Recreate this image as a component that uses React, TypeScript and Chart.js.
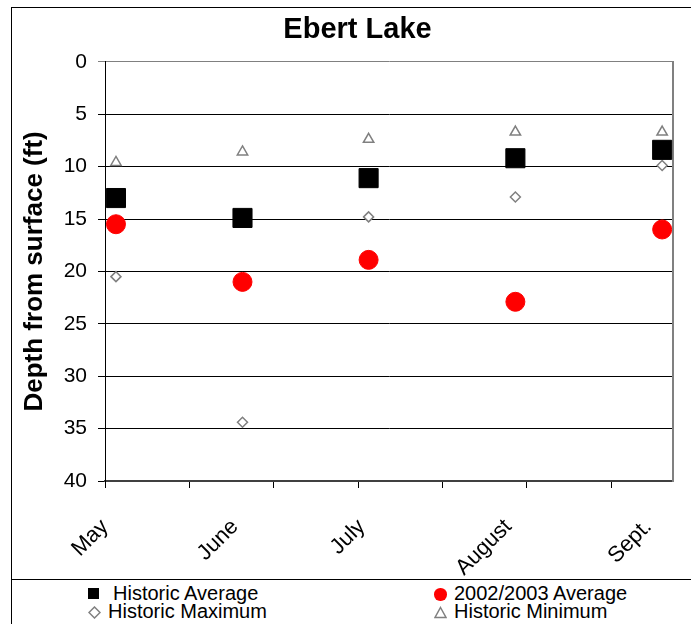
import React, { useEffect, useRef } from 'react';
import { Chart, registerables } from 'chart.js';

Chart.register(...registerables);

const FONT = "'Liberation Sans', Arial, Helvetica, sans-serif";

// Category labels and the x positions (axis units) where their rotated labels end
const months = ['May', 'June', 'July', 'August', 'Sept.'];
const monthLabelPos = [0, 30.8, 60.9, 95.6, 128.8];
// x positions (axis units) of the monthly samples
const sampleX = [2.6, 32.6, 62.5, 97.3, 132.1];
// tick marks of the x axis
const xTickValues = [0, 20, 40, 60, 80, 100, 120];

// Depth from surface (ft)
const historicAverage = [13.0, 14.9, 11.1, 9.2, 8.4];
const average2002_2003 = [15.5, 21.0, 18.9, 22.9, 16.0];
const historicMaximum = [20.5, 34.4, 14.8, 12.9, 9.9];
const historicMinimum = [9.6, 8.6, 7.4, 6.7, 6.7];

const toPoints = (ys: number[]) => ys.map((y, i) => ({ x: sampleX[i], y }));

export default function App() {
  const ref = useRef<HTMLCanvasElement | null>(null);

  useEffect(() => {
    if (!ref.current) return;
    const chart = new Chart(ref.current, {
      type: 'scatter',
      data: {
        datasets: [
          {
            label: 'Historic Average',
            data: toPoints(historicAverage),
            pointStyle: 'rect',
            pointRadius: 13.5,
            backgroundColor: '#000000',
            borderColor: '#000000',
            borderWidth: 1,
          },
          {
            label: '2002/2003 Average',
            data: toPoints(average2002_2003),
            pointStyle: 'circle',
            pointRadius: 9.5,
            backgroundColor: '#ff0000',
            borderColor: '#ff0000',
            borderWidth: 1,
          },
          {
            label: 'Historic Maximum',
            data: toPoints(historicMaximum),
            pointStyle: 'rectRot',
            pointRadius: 5,
            backgroundColor: '#ffffff',
            borderColor: '#808080',
            borderWidth: 1.5,
          },
          {
            label: 'Historic Minimum',
            data: toPoints(historicMinimum),
            pointStyle: 'triangle',
            pointRadius: 6,
            backgroundColor: '#ffffff',
            borderColor: '#808080',
            borderWidth: 1.5,
          },
        ],
      },
      options: {
        responsive: false,
        animation: false,
        devicePixelRatio: 1,
        layout: { padding: { left: 24, right: 0, top: 0, bottom: 0 } },
        plugins: {
          legend: { display: false },
          tooltip: { enabled: false },
          title: {
            display: true,
            text: 'Ebert Lake',
            color: '#000',
            font: { family: FONT, size: 29, weight: 'bold', lineHeight: 1.2 },
            padding: { top: 13, bottom: 14 },
          },
        },
        scales: {
          x: {
            type: 'linear',
            position: 'bottom',
            min: 0,
            max: 134.6,
            afterBuildTicks: (s: any) => {
              s.ticks = xTickValues.map((v) => ({ value: v }));
            },
            ticks: { display: false },
            grid: { drawOnChartArea: false, drawTicks: true, tickLength: 7, color: '#000', lineWidth: 1 },
            border: { display: true, color: '#404040', width: 2 },
            afterFit: (s: any) => {
              s.height = 7;
            },
          },
          xl: {
            type: 'linear',
            position: 'bottom',
            min: 0,
            max: 134.6,
            afterBuildTicks: (s: any) => {
              s.ticks = monthLabelPos.map((v) => ({ value: v }));
            },
            ticks: {
              autoSkip: false,
              minRotation: 45,
              maxRotation: 45,
              padding: 18,
              color: '#000',
              font: { family: FONT, size: 22 },
              callback: (_v: any, i: number) => months[i],
            },
            grid: { display: false },
            border: { display: false },
            afterFit: (s: any) => {
              s.height = 91;
            },
          },
          y: {
            type: 'linear',
            position: 'left',
            min: 0,
            max: 40,
            reverse: true,
            ticks: { stepSize: 5, padding: 11, color: '#000', font: { family: FONT, size: 21 } },
            grid: {
              color: (c: any) => (c.tick && c.tick.value === 0 ? '#808080' : '#000'),
              lineWidth: 1,
              tickLength: 7,
              drawTicks: true,
            },
            border: { display: true, color: '#000', width: 1 },
            title: {
              display: true,
              text: 'Depth from surface (ft)',
              color: '#000',
              font: { family: FONT, size: 26, weight: 'bold', lineHeight: 0.7 },
              padding: { top: 1.5, bottom: 0 },
            },
            afterFit: (s: any) => {
              s.width = 81;
            },
          },
          y2: {
            type: 'linear',
            position: 'right',
            display: true,
            ticks: { display: false },
            grid: { display: false },
            border: { display: true, color: '#808080', width: 2 },
            afterFit: (s: any) => {
              s.width = 18.3;
            },
          },
        },
      } as any,
    });
    return () => chart.destroy();
  }, []);

  const text: React.CSSProperties = {
    position: 'absolute',
    fontFamily: FONT,
    fontSize: 20,
    lineHeight: '18px',
    color: '#000',
    whiteSpace: 'nowrap',
  };

  return (
    <div
      style={{
        position: 'absolute',
        left: 0,
        top: 0,
        width: 691,
        height: 624,
        overflow: 'hidden',
        background: '#fff',
      }}
    >
      <div
        style={{
          position: 'absolute',
          left: 11,
          top: 7,
          width: 700,
          height: 700,
          borderLeft: '1px solid #000',
          borderTop: '1px solid #000',
        }}
      />
      <div
        style={{
          position: 'absolute',
          left: 11,
          top: 579,
          width: 700,
          height: 0,
          borderTop: '1px solid #000',
        }}
      />
      <canvas
        ref={ref}
        width={691}
        height={579}
        style={{ position: 'absolute', left: 0, top: 0, width: 691, height: 579 }}
      />
      {/* Legend */}
      <div style={{ position: 'absolute', left: 88, top: 588, width: 11, height: 11, background: '#000' }} />
      <span style={{ ...text, left: 113, top: 584 }}>Historic Average</span>
      <svg style={{ position: 'absolute', left: 88, top: 606 }} width={13} height={13}>
        <polygon points="6.5,1 12,6.5 6.5,12 1,6.5" fill="#fff" stroke="#808080" strokeWidth={1.5} />
      </svg>
      <span style={{ ...text, left: 108, top: 602 }}>Historic Maximum</span>
      <div
        style={{
          position: 'absolute',
          left: 434,
          top: 588,
          width: 12.5,
          height: 12.5,
          borderRadius: '50%',
          background: '#ff0000',
        }}
      />
      <span style={{ ...text, left: 454, top: 584 }}>2002/2003 Average</span>
      <svg style={{ position: 'absolute', left: 434, top: 606 }} width={13} height={13}>
        <polygon points="6.5,1.5 12,11.5 1,11.5" fill="#fff" stroke="#808080" strokeWidth={1.5} />
      </svg>
      <span style={{ ...text, left: 454, top: 602 }}>Historic Minimum</span>
    </div>
  );
}
